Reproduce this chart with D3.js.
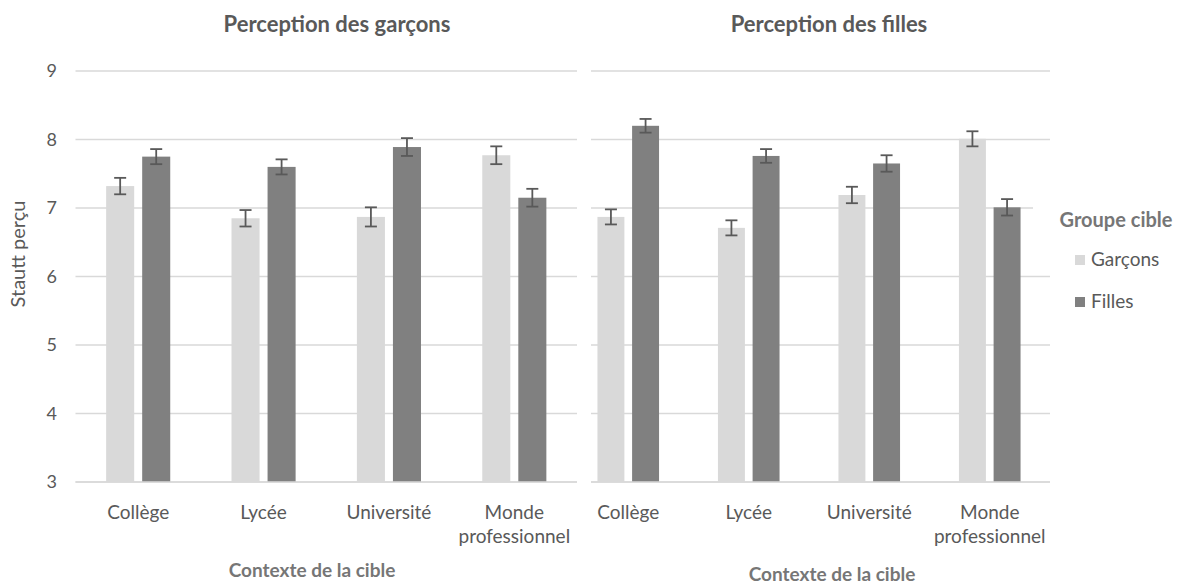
<!DOCTYPE html>
<html>
<head>
<meta charset="utf-8">
<script src="https://cdn.jsdelivr.net/npm/d3@7"></script>
<style>
  html, body { margin: 0; padding: 0; background: #fff; }
  svg { display: block; font-family: Lato, "Open Sans", sans-serif; }
</style>
</head>
<body>
<div id="chart"></div>
<script>
const width = 1181;
const height = 585;

// données
const categories = ["Collège", "Lycée", "Université", "Monde professionnel"];
const groups = ["Garçons", "Filles"];
const yTicks = [3, 4, 5, 6, 7, 8, 9];

// perception des garçons
const boysGarcons = [7.32, 6.85, 6.87, 7.77];
const boysGarconsErr = [0.12, 0.12, 0.14, 0.13];
const boysFilles = [7.75, 7.60, 7.89, 7.15];
const boysFillesErr = [0.11, 0.11, 0.13, 0.13];

// perception des filles
const girlsGarcons = [6.87, 6.71, 7.19, 8.01];
const girlsGarconsErr = [0.11, 0.11, 0.12, 0.11];
const girlsFilles = [8.20, 7.76, 7.65, 7.01];
const girlsFillesErr = [0.10, 0.10, 0.12, 0.12];

const colors = { "Garçons": "#d9d9d9", "Filles": "#808080" };
const textColor = "#595959";
const lightText = "#767676";

const svg = d3.select("#chart")
  .append("svg")
  .attr("width", width)
  .attr("height", height);

const y = d3.scaleLinear().domain([3, 9]).range([482, 71]);

function buildRows(garcons, gErr, filles, fErr) {
  return categories.map((c, i) => ({
    cat: c,
    bars: [
      { group: "Garçons", value: garcons[i], err: gErr[i] },
      { group: "Filles", value: filles[i], err: fErr[i] }
    ]
  }));
}

function drawPanel(g, opts) {
  const x0 = d3.scaleBand().domain(categories).range([opts.x0, opts.x1]);
  const x1 = d3.scaleBand().domain(groups)
    .range([0, x0.bandwidth()])
    .paddingInner(0.222)
    .paddingOuter(0.85);

  if (opts.cover) {
    g.append("rect")
      .attr("x", 0).attr("y", 0)
      .attr("width", opts.cover).attr("height", height)
      .attr("fill", "#fff");
  }

  // grille
  g.append("g")
    .selectAll("line")
    .data(yTicks)
    .join("line")
    .attr("x1", opts.x0)
    .attr("x2", opts.x1)
    .attr("y1", d => y(d))
    .attr("y2", d => y(d))
    .attr("stroke", "#d9d9d9")
    .attr("stroke-width", 1.5);

  if (opts.showY) {
    g.append("g")
      .selectAll("text")
      .data(yTicks)
      .join("text")
      .attr("x", 57)
      .attr("y", d => y(d))
      .attr("dy", "0.36em")
      .attr("text-anchor", "end")
      .attr("font-size", 18)
      .attr("fill", textColor)
      .text(d => d);

    g.append("text")
      .attr("transform", "translate(25,254) rotate(-90)")
      .attr("text-anchor", "middle")
      .attr("font-size", 20)
      .attr("fill", textColor)
      .text("Stautt perçu");
  }

  const cat = g.append("g")
    .selectAll("g")
    .data(opts.rows)
    .join("g")
    .attr("transform", d => `translate(${x0(d.cat)},0)`);

  cat.selectAll("rect")
    .data(d => d.bars)
    .join("rect")
    .attr("x", d => x1(d.group))
    .attr("width", x1.bandwidth())
    .attr("y", d => y(d.value))
    .attr("height", d => y(3) - y(d.value))
    .attr("fill", d => colors[d.group]);

  // barres d'erreur
  const eb = cat.selectAll("g.err")
    .data(d => d.bars)
    .join("g")
    .attr("class", "err")
    .attr("transform", d => `translate(${x1(d.group) + x1.bandwidth() / 2},0)`)
    .attr("stroke", "#595959")
    .attr("stroke-width", 1.8);

  eb.append("line")
    .attr("y1", d => y(d.value + d.err))
    .attr("y2", d => y(d.value - d.err));
  eb.append("line")
    .attr("x1", -6).attr("x2", 6)
    .attr("y1", d => y(d.value + d.err))
    .attr("y2", d => y(d.value + d.err));
  eb.append("line")
    .attr("x1", -6).attr("x2", 6)
    .attr("y1", d => y(d.value - d.err))
    .attr("y2", d => y(d.value - d.err));

  // axe x
  g.append("line")
    .attr("x1", opts.x0).attr("x2", opts.x1)
    .attr("y1", y(3)).attr("y2", y(3))
    .attr("stroke", "#d9d9d9")
    .attr("stroke-width", 1.5);

  const labels = g.append("g")
    .selectAll("text")
    .data(categories)
    .join("text")
    .attr("x", d => x0(d) + x0.bandwidth() / 2)
    .attr("y", 519)
    .attr("text-anchor", "middle")
    .attr("font-size", 19)
    .attr("fill", textColor);

  labels.each(function (d) {
    const words = d === "Monde professionnel" ? ["Monde", "professionnel"] : [d];
    d3.select(this).selectAll("tspan")
      .data(words)
      .join("tspan")
      .attr("x", x0(d) + x0.bandwidth() / 2)
      .attr("dy", (w, i) => i === 0 ? 0 : 24)
      .text(w => w);
  });

  g.append("text")
    .attr("x", opts.titleX)
    .attr("y", 32)
    .attr("text-anchor", "middle")
    .attr("font-size", 22)
    .attr("font-weight", "bold")
    .attr("fill", textColor)
    .text(opts.title);

  g.append("text")
    .attr("x", opts.axisTitleX)
    .attr("y", opts.axisTitleY)
    .attr("text-anchor", "middle")
    .attr("font-size", 19)
    .attr("font-weight", "bold")
    .attr("fill", lightText)
    .text("Contexte de la cible");
}

// panneau de droite (dessiné en premier, en partie caché par celui de gauche)
const right = svg.append("g");
drawPanel(right, {
  rows: buildRows(girlsGarcons, girlsGarconsErr, girlsFilles, girlsFillesErr),
  x0: 568, x1: 1050,
  title: "Perception des filles", titleX: 829,
  axisTitleX: 832, axisTitleY: 581,
  showY: false
});

const left = svg.append("g");
drawPanel(left, {
  rows: buildRows(boysGarcons, boysGarconsErr, boysFilles, boysFillesErr),
  x0: 75.5, x1: 577,
  title: "Perception des garçons", titleX: 337,
  axisTitleX: 312, axisTitleY: 577,
  showY: true, cover: 591
});

// légende
const legend = svg.append("g");
legend.append("rect")
  .attr("x", 1033).attr("y", 198)
  .attr("width", 148).attr("height", 40)
  .attr("fill", "#fff");
legend.append("text")
  .attr("x", 1116).attr("y", 227)
  .attr("text-anchor", "middle")
  .attr("font-size", 20)
  .attr("font-weight", "bold")
  .attr("fill", lightText)
  .text("Groupe cible");

const items = legend.selectAll("g.item")
  .data(groups)
  .join("g")
  .attr("class", "item")
  .attr("transform", (d, i) => `translate(1075,${255 + i * 42})`);
items.append("rect")
  .attr("width", 10).attr("height", 10)
  .attr("fill", d => colors[d]);
items.append("text")
  .attr("x", 16).attr("y", 11)
  .attr("font-size", 19)
  .attr("fill", textColor)
  .text(d => d);
</script>
</body>
</html>
